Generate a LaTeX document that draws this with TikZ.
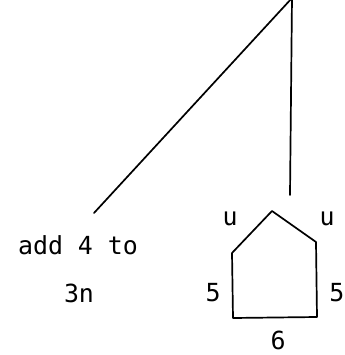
\documentclass[tikz,border=0pt]{standalone}
\usepackage{fontspec}
\setmonofont{DejaVu Sans Mono}
\usetikzlibrary{positioning}

\begin{document}
\begin{tikzpicture}[x=1bp, y=-1bp, every node/.style={font=\ttfamily\fontsize{25}{28}\selectfont, inner sep=0pt},
  edge/.style={line width=1.7bp, line cap=round, line join=round}]

\path[use as bounding box] (0,0) rectangle (345,355);

% Tree top and branch ends
\coordinate (top) at (292,-2);
\coordinate (lend) at (94,213);
\coordinate (rend) at (290,195);

\draw[edge] (top) -- (lend);
\draw[edge] (top) -- (rend);

% Left leaf text
\node (add) at (78,245) {add 4 to};
\node (tn) at (79,293) {3n};

% Pentagon corners
\coordinate (apex) at (272,211);
\coordinate (tl) at (232,253);
\coordinate (tr) at (316,242);
\coordinate (bl) at (233,318);
\coordinate (br) at (317,317);

\draw[edge] (tl) -- (apex) -- (tr) -- (br) -- (bl) -- cycle;

% Side labels
\node (ul) at (230,219) {u};
\node (ur) at (327,219) {u};
\node (fl) at (213,293) {5};
\node[anchor=east] (fr) at (344.5,293) {5};
\node (six) at (278,340) {6};
\end{tikzpicture}
\end{document}
